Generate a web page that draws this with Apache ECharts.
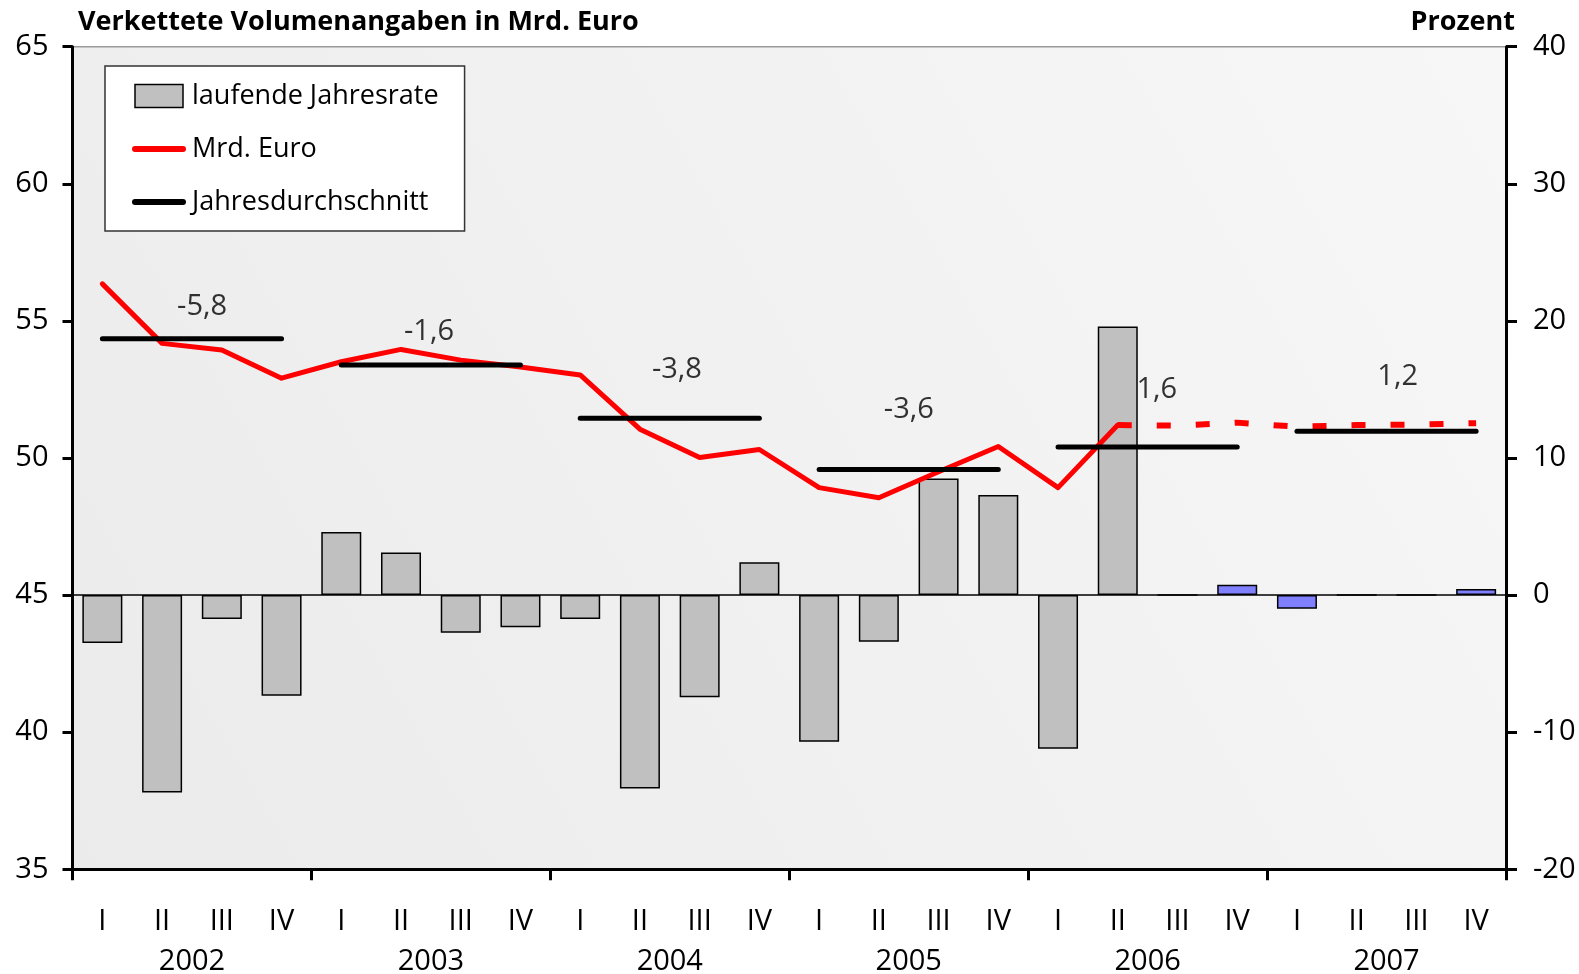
<!DOCTYPE html>
<html>
<head>
<meta charset="utf-8">
<script src="https://cdn.jsdelivr.net/npm/echarts@6/dist/echarts.min.js"></script>
<style>
  html, body { margin: 0; padding: 0; background: #fff; }
  #chart { width: 1579px; height: 974px; }
</style>
</head>
<body>
<div id="chart"></div>
<script>
// ---------- data ----------
const years = ['2002', '2003', '2004', '2005', '2006', '2007'];
const quarterNames = ['I', 'II', 'III', 'IV'];
// laufende Jahresrate (Prozent, right axis)
const jahresrate = [-3.5, -14.4, -1.75, -7.35,  4.6, 3.1, -2.75, -2.35,
                    -1.75, -14.1, -7.45, 2.4,   -10.7, -3.4, 8.5, 7.3,
                    -11.2, 19.6, 0, 0.75,       -1.0, 0, 0, 0.45];
// Mrd. Euro (left axis)
const mrdEuro = [56.35, 54.18, 53.94, 52.91, 53.51, 53.96, 53.57, 53.32,
                 53.03, 51.05, 50.02, 50.31, 48.92, 48.55, 49.5, 50.42,
                 48.92, 51.2, 51.18, 51.29, 51.14, 51.2, 51.22, 51.27];
// Jahresdurchschnitt (left axis)
const yearAvg = [54.35, 53.39, 51.45, 49.58, 50.4, 50.98];
const yearAvgLabels = ['-5,8', '-1,6', '-3,8', '-3,6', '1,6', '1,2'];
// index of first forecast quarter (2006 III)
const forecastStart = 18;

// ---------- styles ----------
const FONT = "'Open Sans', 'DejaVu Sans', sans-serif";
const labelDx = [40, 28, 37, 30, 39, 41];
const labelLift = [32, 33, 49, 60, 57, 54];

const categories = [];
years.forEach(y => quarterNames.forEach(q => categories.push(q)));

const barData = jahresrate.map((v, i) => ({
  value: v,
  itemStyle: { color: i >= forecastStart ? '#8080ff' : '#c0c0c0' }
}));

const solidLine = mrdEuro.map((v, i) => (i <= forecastStart - 1 ? v : null));
const dashedLine = mrdEuro.map((v, i) => (i >= forecastStart - 1 ? v : null));

const series = [
  {
    name: 'laufende Jahresrate',
    type: 'bar',
    xAxisIndex: 0,
    yAxisIndex: 1,
    barWidth: 40,
    data: barData,
    itemStyle: { color: '#c0c0c0', borderColor: '#000', borderWidth: 1.5 },
    z: 2,
    markLine: {
      silent: true,
      symbol: 'none',
      label: { show: false },
      lineStyle: { color: '#000', width: 1.5, type: 'solid' },
      data: [{ yAxis: 0 }],
      animation: false
    }
  },
  {
    name: 'Mrd. Euro',
    type: 'line',
    xAxisIndex: 0,
    yAxisIndex: 0,
    data: solidLine,
    symbol: 'none',
    lineStyle: { color: '#ff0000', width: 5, cap: 'round', join: 'round' },
    itemStyle: { color: '#ff0000' },
    z: 4
  },
  {
    name: 'Mrd. Euro Prognose',
    type: 'line',
    xAxisIndex: 0,
    yAxisIndex: 0,
    data: dashedLine,
    symbol: 'none',
    lineStyle: { color: '#ff0000', width: 6, type: [14, 25] },
    itemStyle: { color: '#ff0000' },
    z: 4
  }
];

years.forEach((y, yi) => {
  const d = categories.map((c, i) => (Math.floor(i / 4) === yi ? yearAvg[yi] : null));
  series.push({
    name: 'Jahresdurchschnitt',
    type: 'line',
    xAxisIndex: 0,
    yAxisIndex: 0,
    data: d,
    symbol: 'none',
    lineStyle: { color: '#000', width: 5, cap: 'round' },
    itemStyle: { color: '#000' },
    z: 5
  });
});

series.push({
  name: 'labels',
  type: 'scatter',
  xAxisIndex: 0,
  yAxisIndex: 0,
  symbolSize: 1,
  itemStyle: { color: 'rgba(0,0,0,0)' },
  silent: true,
  z: 6,
  data: years.map((y, yi) => ({
    value: [yi * 4 + 1, yearAvg[yi]],
    label: {
      show: true,
      formatter: yearAvgLabels[yi],
      position: 'inside',
      offset: [labelDx[yi], -labelLift[yi]],
      color: '#000',
      fontFamily: FONT,
      fontSize: 29
    }
  }))
});

const chart = echarts.init(document.getElementById('chart'), null, { renderer: 'canvas' });
chart.setOption({
  animation: false,
  backgroundColor: '#ffffff',
  textStyle: { fontFamily: FONT },
  title: [
    {
      text: 'Verkettete Volumenangaben in Mrd. Euro',
      left: 78, top: 9, padding: 0,
      textStyle: { fontFamily: FONT, fontSize: 27, fontWeight: 'bold', color: '#000' }
    },
    {
      text: 'Prozent',
      right: 64, top: 9, padding: 0,
      textStyle: { fontFamily: FONT, fontSize: 27, fontWeight: 'bold', color: '#000' }
    }
  ],
  legend: {
    orient: 'vertical',
    left: 105,
    top: 66,
    backgroundColor: '#ffffff',
    borderColor: '#333',
    borderWidth: 1.5,
    borderRadius: 0,
    padding: [15, 26, 14, 27],
    itemGap: 23,
    itemWidth: 48,
    itemHeight: 23,
    textStyle: { fontFamily: FONT, fontSize: 27, color: '#000', lineHeight: 30, padding: [0, 0, 0, 4] },
    data: [
      { name: 'laufende Jahresrate', icon: 'rect',
        itemStyle: { color: '#c0c0c0', borderColor: '#000', borderWidth: 1.5 } },
      { name: 'Mrd. Euro',
        itemStyle: { opacity: 0 },
        lineStyle: { color: '#ff0000', width: 6, cap: 'round' } },
      { name: 'Jahresdurchschnitt',
        itemStyle: { opacity: 0 },
        lineStyle: { color: '#000', width: 6, cap: 'round' } }
    ]
  },
  grid: {
    left: 72.5, right: 73, top: 46.7, bottom: 104.7,
    containLabel: false,
    outerBoundsMode: 'none',
    show: true,
    borderColor: '#9a9a9a',
    borderWidth: 1.5,
    backgroundColor: new echarts.graphic.LinearGradient(0, 1, 1, 0, [
      { offset: 0, color: '#ebebeb' },
      { offset: 1, color: '#f7f7f7' }
    ])
  },
  xAxis: [
    {
      type: 'category',
      data: categories,
      position: 'bottom',
      boundaryGap: true,
      axisLine: { show: false },
      axisTick: { show: false },
      splitLine: { show: false },
      axisLabel: { interval: 0, margin: 38, fontFamily: FONT, fontSize: 29, color: '#000' }
    },
    {
      type: 'category',
      data: years,
      position: 'bottom',
      boundaryGap: true,
      axisLine: { show: true, lineStyle: { color: '#000', width: 3 } },
      axisTick: { show: true, length: 11, lineStyle: { color: '#000', width: 3 } },
      splitLine: { show: false },
      axisLabel: { interval: 0, margin: 78, fontFamily: FONT, fontSize: 29, color: '#000' }
    }
  ],
  yAxis: [
    {
      type: 'value',
      position: 'left',
      min: 35, max: 65, interval: 5,
      axisLine: { show: true, lineStyle: { color: '#000', width: 3 } },
      axisTick: { show: true, length: 10, lineStyle: { color: '#000', width: 3 } },
      splitLine: { show: false },
      axisLabel: { margin: 24, fontFamily: FONT, fontSize: 29, color: '#000' }
    },
    {
      type: 'value',
      position: 'right',
      min: -20, max: 40, interval: 10,
      axisLine: { show: true, lineStyle: { color: '#000', width: 3 } },
      axisTick: { show: true, length: 11, lineStyle: { color: '#000', width: 3 } },
      splitLine: { show: false },
      axisLabel: { margin: 27, fontFamily: FONT, fontSize: 29, color: '#000' }
    }
  ],
  series: series
});
</script>
</body>
</html>
